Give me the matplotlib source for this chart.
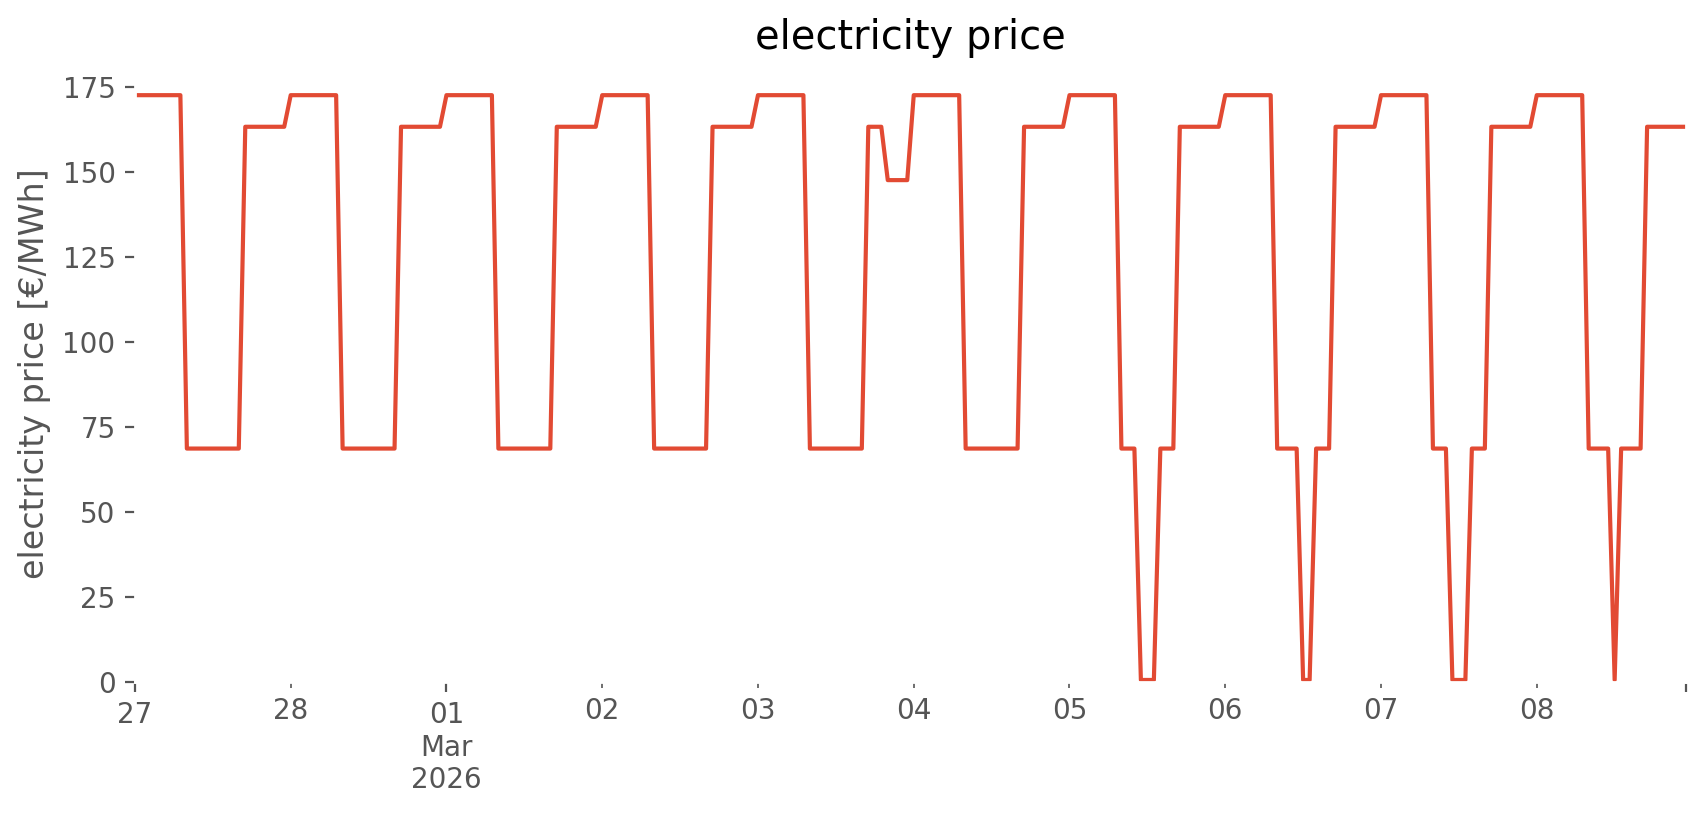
import matplotlib
matplotlib.use("Agg")
import matplotlib.pyplot as plt
import pandas as pd

start = "2026-02-27 00:00"   # first hourly sample

# hourly prices [EUR/MWh], one list of 24 values per day
feb27 = [172.6]*8 + [68.6]*9 + [163.3]*7
feb28 = [172.6]*8 + [68.6]*9 + [163.3]*7
mar01 = [172.6]*8 + [68.6]*9 + [163.3]*7
mar02 = [172.6]*8 + [68.6]*9 + [163.3]*7
mar03 = [172.6]*8 + [68.6]*9 + [163.3]*3 + [147.6]*4
mar04 = [172.6]*8 + [68.6]*9 + [163.3]*7
mar05 = [172.6]*8 + [68.6]*3 + [0.5]*3 + [68.6]*3 + [163.3]*7
mar06 = [172.6]*8 + [68.6]*4 + [0.5]*2 + [68.6]*3 + [163.3]*7
mar07 = [172.6]*8 + [68.6]*3 + [0.5]*3 + [68.6]*3 + [163.3]*7
mar08 = [172.6]*8 + [68.6]*4 + [0.5]*1 + [68.6]*4 + [163.3]*7

days = [feb27, feb28, mar01, mar02, mar03, mar04, mar05, mar06, mar07, mar08]
prices = [p for d in days for p in d]

plt.style.use("ggplot")

idx = pd.date_range(start, periods=len(prices), freq="h")
price = pd.Series(prices, index=idx, name="electricity price")

fig, ax = plt.subplots(figsize=(8.53, 4.075), dpi=200)
fig.subplots_adjust(left=0.0791, right=0.9883, bottom=0.1636, top=0.9191)

price.plot(ax=ax)   # pandas date axis gives the 27 / 01 Mar 2026 labels

ax.set_facecolor("white")
ax.grid(False)
ax.set_ylim(bottom=0)
ax.set_xlabel("")
ax.set_ylabel("electricity price [€/MWh]")
ax.set_title("electricity price")

fig.savefig("out.png", dpi=200)
